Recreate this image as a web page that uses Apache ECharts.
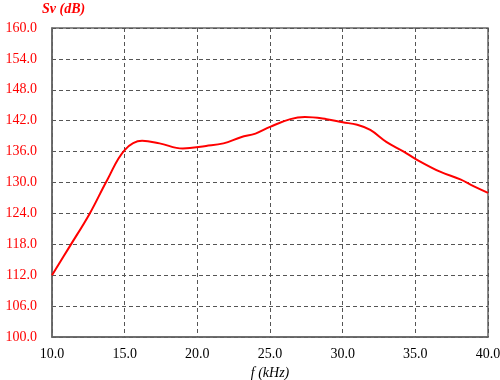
<!DOCTYPE html>
<html>
<head>
<meta charset="utf-8">
<script src="https://cdn.jsdelivr.net/npm/echarts@6/dist/echarts.min.js"></script>
<style>html,body{margin:0;padding:0;background:#fff;}#c{width:500px;height:380px;}</style>
</head>
<body>
<div id="c"></div>
<script>
const freqs = [10, 11.2, 12.6, 13.8, 15, 16.2, 17.4, 19, 20.6, 21.8, 23, 24, 25, 26.4, 27.4, 28.9, 30, 31, 31.9, 33, 34.2, 35, 36.7, 38.1, 39, 40];
const svValues = [112, 117.5, 124, 130.5, 136.3, 138.1, 137.6, 136.6, 137.1, 137.6, 138.8, 139.5, 140.8, 142.3, 142.7, 142.3, 141.7, 141.2, 140.2, 137.9, 136, 134.6, 132.1, 130.6, 129.3, 128];
const xTicks = [10, 15, 20, 25, 30, 35, 40];
const yTicks = [100, 106, 112, 118, 124, 130, 136, 142, 148, 154, 160];
const xName = 'f (kHz)';
const yName = 'Sv (dB)';

const chart = echarts.init(document.getElementById('c'), null, {renderer: 'canvas'});
const serif = '"Liberation Serif", "Times New Roman", serif';
chart.setOption({
  animation: false,
  backgroundColor: '#fff',
  grid: {left: 52, right: 12, top: 28, bottom: 43, outerBoundsMode: 'none', containLabel: false,
         show: true, borderColor: '#666', borderWidth: 1.5, backgroundColor: 'transparent'},
  xAxis: {
    type: 'value', min: xTicks[0], max: xTicks[xTicks.length - 1], interval: 5,
    name: xName, nameLocation: 'middle', nameGap: 25,
    nameTextStyle: {fontFamily: serif, fontStyle: 'italic', fontSize: 14, color: '#000'},
    axisLine: {show: true, lineStyle: {color: '#666', width: 1.5}},
    axisTick: {show: false},
    axisLabel: {margin: 10, fontFamily: serif, fontSize: 14, color: '#000', formatter: v => v.toFixed(1)},
    splitLine: {show: true, lineStyle: {color: '#555', type: [4, 3], width: 1}}
  },
  yAxis: {
    type: 'value', min: yTicks[0], max: yTicks[yTicks.length - 1], interval: 6,
    name: yName, nameLocation: 'end', nameGap: 12,
    nameTextStyle: {fontFamily: serif, fontStyle: 'italic', fontWeight: 'bold', fontSize: 14, color: '#ff0000', align: 'left', padding: [0, 0, 0, -10]},
    axisLine: {show: true, lineStyle: {color: '#666', width: 1.5}},
    axisTick: {show: false},
    axisLabel: {margin: 15, fontFamily: serif, fontSize: 14, color: '#ff0000', formatter: v => v.toFixed(1)},
    splitLine: {show: true, lineStyle: {color: '#555', type: [4, 3], width: 1}}
  },
  series: [{
    type: 'line', smooth: 0.4, showSymbol: false,
    data: freqs.map((f, i) => [f, svValues[i]]),
    lineStyle: {color: '#ff0000', width: 2}
  }]
});
</script>
</body>
</html>
